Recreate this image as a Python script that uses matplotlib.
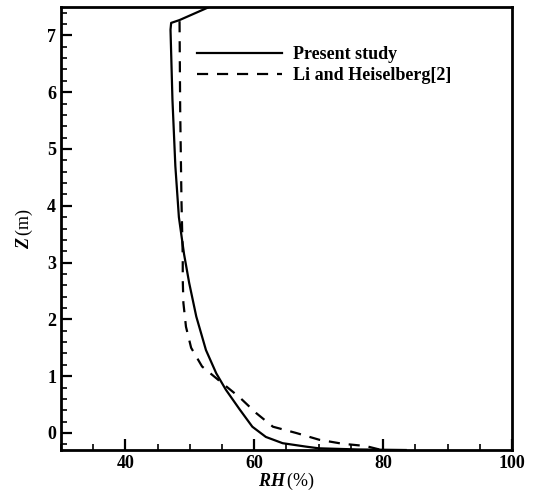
import matplotlib
matplotlib.use("Agg")
import matplotlib.pyplot as plt
from matplotlib.ticker import MultipleLocator

# Present study (RH %, Z m)
rh_present = [83.5, 76.0, 70.0, 68.0, 64.4, 61.8, 59.7, 57.7, 55.6, 54.1, 52.5, 51.0, 49.9, 49.1, 48.3, 47.75, 47.3, 47.0, 47.1, 48.4, 53.0]
z_present = [-0.3, -0.29, -0.27, -0.24, -0.18, -0.07, 0.11, 0.42, 0.76, 1.05, 1.46, 2.05, 2.64, 3.15, 3.8, 4.7, 5.87, 7.1, 7.22, 7.27, 7.5]

# Li and Heiselberg [2]
rh_li = [79.4, 77.3, 73.7, 70.1, 66.5, 62.9, 60.3, 57.7, 55.0, 51.9, 50.2, 49.4, 49.0, 48.9, 48.9, 48.7, 48.5, 48.4]
z_li = [-0.29, -0.23, -0.19, -0.12, 0.0, 0.11, 0.35, 0.63, 0.88, 1.17, 1.5, 1.87, 2.29, 2.7, 3.1, 4.1, 5.7, 7.27]

plt.rcParams['font.family'] = ['Liberation Serif', 'DejaVu Serif']
plt.rcParams['mathtext.fontset'] = 'custom'
plt.rcParams['mathtext.it'] = 'Liberation Serif:italic:bold'
plt.rcParams['mathtext.rm'] = 'Liberation Serif:bold'

fig = plt.figure(figsize=(5.33, 4.93), dpi=100)
ax = fig.add_axes([0.1144, 0.0872, 0.8462, 0.8986])

ax.plot(rh_present, z_present, "-", color="black", lw=1.6, label="Present study")
ax.plot(rh_li, z_li, "--", color="black", lw=1.6, dashes=(5, 4), label="Li and Heiselberg[2]")

ax.set_xlim(30, 100)
ax.set_ylim(-0.3, 7.5)
ax.xaxis.set_major_locator(MultipleLocator(20))
ax.xaxis.set_minor_locator(MultipleLocator(5))
ax.yaxis.set_major_locator(MultipleLocator(1))
ax.yaxis.set_minor_locator(MultipleLocator(0.2))
ax.tick_params(which="major", direction="in", length=8, width=1.6, labelsize=13)
ax.tick_params(which="minor", direction="in", length=4, width=1.2)
for lab in ax.get_xticklabels() + ax.get_yticklabels():
    lab.set_fontweight("bold")
for s in ax.spines.values():
    s.set_linewidth(2)

ax.set_xlabel(r"$\mathit{RH}\,$(%)", fontsize=13, labelpad=-1)
ax.set_ylabel(r"$\mathit{Z}\,$(m)", fontsize=13, labelpad=9)

leg = ax.legend(loc="upper left", bbox_to_anchor=(0.266, 0.948), frameon=False,
                prop={"size": 13, "weight": "bold"}, handlelength=4.7,
                handletextpad=0.6, labelspacing=0.2)

fig.text(0.51, 1.005, "(a)", ha="center", va="bottom", fontsize=12)

fig.savefig("out.png", dpi=100)
